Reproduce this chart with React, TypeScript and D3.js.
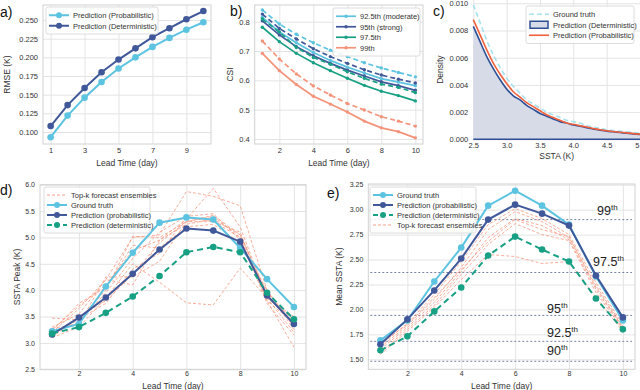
import React, { useEffect, useRef } from 'react';
import * as d3 from 'd3';

// lead time categories
const days = [1, 2, 3, 4, 5, 6, 7, 8, 9, 10];

// a) RMSE
const rmseProb = [0.093, 0.122, 0.146, 0.167, 0.185, 0.200, 0.214, 0.226, 0.237, 0.247];
const rmseDet = [0.108, 0.136, 0.159, 0.180, 0.197, 0.212, 0.227, 0.239, 0.251, 0.262];
const rmseYTicks = [0.100, 0.125, 0.150, 0.175, 0.200, 0.225, 0.250];

// b) CSI per threshold, solid = probabilistic, dashed = deterministic
const csiNames = ['92.5th (moderate)', '95th (strong)', '97.5th', '99th'];
const csiSolid = [
  [0.815, 0.765, 0.728, 0.695, 0.668, 0.645, 0.625, 0.606, 0.594, 0.582],
  [0.803, 0.755, 0.715, 0.684, 0.658, 0.635, 0.615, 0.595, 0.582, 0.566],
  [0.781, 0.732, 0.692, 0.660, 0.633, 0.607, 0.583, 0.563, 0.548, 0.530],
  [0.692, 0.633, 0.586, 0.546, 0.519, 0.492, 0.461, 0.438, 0.425, 0.404],
];
const csiDashed = [
  [0.840, 0.792, 0.757, 0.728, 0.703, 0.681, 0.660, 0.642, 0.627, 0.612],
  [0.826, 0.777, 0.741, 0.708, 0.681, 0.658, 0.636, 0.618, 0.604, 0.591],
  [0.809, 0.765, 0.712, 0.678, 0.655, 0.629, 0.607, 0.587, 0.576, 0.558],
  [0.734, 0.673, 0.622, 0.581, 0.550, 0.521, 0.499, 0.476, 0.461, 0.444],
];
const csiYTicks = [0.4, 0.5, 0.6, 0.7, 0.8];

// c) density of SSTA
const sstaBins = [2.5, 2.6, 2.7, 2.8, 2.9, 3.0, 3.1, 3.2, 3.3, 3.4, 3.5, 3.6, 3.7, 3.8, 3.9, 4.0, 4.1, 4.2, 4.3, 4.4, 4.5, 4.6, 4.7, 4.8, 4.9, 5.0];
const densTruth = [0.0099, 0.0086, 0.0073, 0.0062, 0.0053, 0.0045, 0.0039, 0.0034, 0.0029, 0.0026, 0.0023, 0.0020, 0.0018, 0.0016, 0.0014, 0.0013, 0.0012, 0.0010, 0.0009, 0.0008, 0.0007, 0.00065, 0.0006, 0.00055, 0.0005, 0.00045];
const densDet = [0.0083, 0.0072, 0.0061, 0.0052, 0.0044, 0.0037, 0.0032, 0.0029, 0.0025, 0.0022, 0.0019, 0.0017, 0.0015, 0.0013, 0.0012, 0.00105, 0.00097, 0.00085, 0.00075, 0.00066, 0.0006, 0.00055, 0.0005, 0.00045, 0.0004, 0.00036];
const densProb = [0.0088, 0.0077, 0.0066, 0.0056, 0.0048, 0.0041, 0.0035, 0.0031, 0.0027, 0.0024, 0.0021, 0.0018, 0.0016, 0.0014, 0.0012, 0.0011, 0.001, 0.0009, 0.0008, 0.0007, 0.00063, 0.00057, 0.00052, 0.00047, 0.00042, 0.00038];
const densXTicks = [2.5, 3.0, 3.5, 4.0, 4.5, 5.0];
const densYTicks = [0, 0.002, 0.004, 0.006, 0.008, 0.010];

// d) SSTA peak
const peakTruth = [3.22, 3.36, 4.07, 4.71, 5.28, 5.38, 5.34, 4.80, 4.21, 3.68];
const peakProb = [3.16, 3.48, 3.86, 4.31, 4.77, 5.17, 5.13, 4.92, 3.90, 3.36];
const peakDet = [3.18, 3.30, 3.57, 3.88, 4.27, 4.72, 4.82, 4.72, 3.95, 3.45];
const peakEns = [
  [3.47, 3.44, 4.00, 5.02, 5.00, 5.30, 5.42, 5.05, 3.90, 3.35],
  [3.20, 3.65, 4.20, 5.00, 5.05, 5.87, 5.78, 5.60, 4.00, 3.30],
  [3.10, 3.30, 3.85, 4.50, 4.15, 3.76, 3.72, 4.42, 3.85, 3.45],
  [3.25, 3.70, 4.10, 4.75, 4.95, 5.35, 5.93, 5.20, 3.85, 3.20],
  [3.15, 3.50, 3.80, 4.30, 4.90, 5.30, 5.30, 5.00, 3.80, 2.92],
  [3.30, 3.55, 4.20, 4.10, 4.95, 5.25, 5.35, 5.05, 3.95, 3.40],
  [3.18, 3.40, 3.95, 4.60, 5.10, 5.40, 5.45, 4.95, 3.85, 3.50],
  [3.22, 3.75, 4.05, 4.85, 4.80, 5.20, 5.25, 4.90, 4.00, 3.25],
  [3.12, 3.45, 3.75, 4.40, 4.70, 5.38, 5.30, 5.10, 3.80, 3.38],
  [3.28, 3.35, 4.25, 4.25, 4.55, 5.30, 5.40, 5.00, 3.75, 3.15],
];
const peakYTicks = [2.5, 3.0, 3.5, 4.0, 4.5, 5.0, 5.5, 6.0];

// e) mean SSTA
const meanTruth = [1.69, 1.89, 2.28, 2.62, 3.04, 3.19, 3.04, 2.85, 2.33, 1.89];
const meanProb = [1.65, 1.90, 2.19, 2.51, 2.90, 3.05, 2.96, 2.84, 2.34, 1.92];
const meanDet = [1.59, 1.73, 1.98, 2.22, 2.54, 2.73, 2.60, 2.48, 2.11, 1.80];
const meanEns = [
  [1.64, 1.86, 2.15, 2.48, 2.85, 3.01, 2.91, 2.75, 2.27, 1.85],
  [1.62, 1.84, 2.10, 2.42, 2.80, 2.98, 2.88, 2.72, 2.24, 1.83],
  [1.60, 1.82, 2.07, 2.38, 2.72, 2.91, 2.84, 2.70, 2.20, 1.81],
  [1.57, 1.80, 2.04, 2.35, 2.65, 2.86, 2.75, 2.69, 2.17, 1.80],
  [1.55, 1.78, 2.02, 2.30, 2.55, 2.53, 2.46, 2.48, 2.12, 1.78],
  [1.66, 1.85, 2.12, 2.40, 2.68, 2.90, 2.80, 2.73, 2.22, 1.82],
];
const meanYTicks = [1.5, 1.75, 2.0, 2.25, 2.5, 2.75, 3.0, 3.25];
const pctNames = ['99', '97.5', '95', '92.5', '90'];
const pctValues = [2.90, 2.37, 1.94, 1.68, 1.48];

const FONT = 'Liberation Sans, Arial, sans-serif';
const LIGHT = '#5cc3e0';
const DARK = '#40589a';
const GREEN = '#18a084';
const SALMON = '#f5937a';
const GRID = '#e4e4e4';

function frame(svg, x, y, box, xTicks, yTicks, xFmt, yFmt, xLabel, yLabel, yLabelX, xPad, xLabelDy, fs) {
  const [x0, x1, y0, y1] = box;
  svg.append('rect').attr('x', x0).attr('y', y0).attr('width', x1 - x0).attr('height', y1 - y0)
    .attr('fill', 'white');
  const gx = svg.append('g').attr('transform', `translate(0,${y1})`)
    .call(d3.axisBottom(x).tickValues(xTicks).tickSize(-(y1 - y0)).tickPadding(xPad).tickFormat(xFmt));
  const gy = svg.append('g').attr('transform', `translate(${x0},0)`)
    .call(d3.axisLeft(y).tickValues(yTicks).tickSize(-(x1 - x0)).tickPadding(5).tickFormat(yFmt));
  [gx, gy].forEach(g => {
    g.select('.domain').remove();
    g.attr('font-family', FONT).attr('font-size', fs);
    g.selectAll('line').attr('stroke', GRID).attr('stroke-width', 1);
    g.selectAll('text').attr('fill', '#333');
  });
  svg.append('text').attr('x', (x0 + Math.min(x1, 640)) / 2).attr('y', y1 + xLabelDy)
    .attr('text-anchor', 'middle').attr('font-family', FONT).attr('font-size', 8.5).attr('fill', '#333')
    .text(xLabel);
  svg.append('text').attr('transform', `translate(${yLabelX},${(y0 + y1) / 2}) rotate(-90)`)
    .attr('text-anchor', 'middle').attr('font-family', FONT).attr('font-size', 8.5).attr('fill', '#333')
    .text(yLabel);
}

function border(svg, box) {
  const [x0, x1, y0, y1] = box;
  svg.append('rect').attr('x', x0).attr('y', y0).attr('width', x1 - x0).attr('height', y1 - y0)
    .attr('fill', 'none').attr('stroke', '#d2d2d2').attr('stroke-width', 1);
}

function series(svg, x, y, vals, o) {
  const line = d3.line().x((d, i) => x(days[i])).y(d => y(d));
  svg.append('path').datum(vals).attr('fill', 'none').attr('stroke', o.color)
    .attr('stroke-width', o.width).attr('stroke-dasharray', o.dash || null)
    .attr('opacity', o.opacity || 1).attr('d', line);
  if (o.r) {
    svg.append('g').selectAll('circle').data(vals).enter().append('circle')
      .attr('cx', (d, i) => x(days[i])).attr('cy', d => y(d)).attr('r', o.r).attr('fill', o.color);
  }
}

function legend(svg, bx, by, w, rowH, items, fs) {
  svg.append('rect').attr('x', bx).attr('y', by).attr('width', w).attr('height', rowH * items.length + 6)
    .attr('rx', 2).attr('fill', 'white').attr('fill-opacity', 0.85).attr('stroke', '#dcdcdc');
  items.forEach((it, i) => {
    const cy = by + 3 + rowH * (i + 0.5);
    const lx0 = bx + 3, lx1 = bx + 23;
    if (it.patch) {
      svg.append('rect').attr('x', lx0 + 1).attr('y', cy - 3.5).attr('width', 18).attr('height', 7)
        .attr('fill', it.patch).attr('stroke', it.color).attr('stroke-width', 1.5);
    } else {
      svg.append('line').attr('x1', lx0).attr('x2', lx1).attr('y1', cy).attr('y2', cy)
        .attr('stroke', it.color).attr('stroke-width', it.width).attr('stroke-dasharray', it.dash || null)
        .attr('opacity', it.opacity || 1);
      if (it.r) {
        svg.append('circle').attr('cx', (lx0 + lx1) / 2).attr('cy', cy).attr('r', it.r).attr('fill', it.color);
      }
    }
    svg.append('text').attr('x', lx1 + 4).attr('y', cy + 3).attr('font-family', FONT)
      .attr('font-size', fs).attr('fill', '#333').text(it.label);
  });
}

function panelLetter(svg, x, y, t) {
  svg.append('text').attr('x', x).attr('y', y).attr('font-family', FONT).attr('font-size', 14)
    .attr('fill', '#111').text(t);
}

const App = () => {
  const ref = useRef(null);

  useEffect(() => {
    const svg = d3.select(ref.current);
    svg.selectAll('*').remove();
    const dayDomain = [0.55, 10.45];

    // ---- a) RMSE
    const boxA = [43, 211, 5, 144];
    const xa = d3.scaleLinear().domain(dayDomain).range([boxA[0], boxA[1]]);
    const ya = d3.scaleLinear().domain([0.1, 0.25]).range([132, 20]);
    frame(svg, xa, ya, boxA, [1, 3, 5, 7, 9], rmseYTicks, d3.format('d'), d3.format('.3f'),
      'Lead Time (day)', 'RMSE (K)', 10, 4, 21.5, 7.5);
    series(svg, xa, ya, rmseProb, { color: LIGHT, width: 2, r: 3.3 });
    series(svg, xa, ya, rmseDet, { color: DARK, width: 2, r: 3.3 });
    border(svg, boxA);
    legend(svg, 46, 7, 112, 10.5, [
      { label: 'Prediction (Probabilistic)', color: LIGHT, width: 2, r: 3 },
      { label: 'Prediction (Deterministic)', color: DARK, width: 2, r: 3 },
    ], 7.5);
    panelLetter(svg, 0, 17, 'a)');

    // ---- b) CSI
    const boxB = [254.7, 423, 5, 144];
    const xb = d3.scaleLinear().domain(dayDomain).range([boxB[0], boxB[1]]);
    const yb = d3.scaleLinear().domain([0.4, 0.8]).range([139, 21.7]);
    frame(svg, xb, yb, boxB, [2, 4, 6, 8, 10], csiYTicks, d3.format('d'), d3.format('.1f'),
      'Lead Time (day)', 'CSI', 233, 4, 21.5, 7.5);
    const csiColors = [LIGHT, DARK, GREEN, SALMON];
    [0, 1, 2, 3].forEach(k => {
      series(svg, xb, yb, csiDashed[k], { color: csiColors[k], width: 1.7, dash: '5,3', r: 1.7 });
      series(svg, xb, yb, csiSolid[k], { color: csiColors[k], width: 1.7, r: 1.7 });
    });
    border(svg, boxB);
    legend(svg, 333, 8, 87, 10.5, csiNames.map((n, k) => ({ label: n, color: csiColors[k], width: 1.7, r: 1.7 })), 7.5);
    panelLetter(svg, 230, 16, 'b)');

    // ---- c) density
    const boxC = [473.3, 700, 0, 139.3];
    const xc = d3.scaleLinear().domain([2.5, 5.0]).range([473.3, 640]);
    const yc = d3.scaleLinear().domain([0, 0.01]).range([139.3, 3.3]);
    frame(svg, xc, yc, boxC, densXTicks, densYTicks, d3.format('.1f'), d3.format('.3f'),
      'SSTA (K)', 'Density', 443, 3, 20, 7.5);
    const area = d3.area().x((d, i) => xc(sstaBins[i])).y0(yc(0)).y1(d => yc(d)).curve(d3.curveMonotoneX);
    const dl = d3.line().x((d, i) => xc(sstaBins[i])).y(d => yc(d)).curve(d3.curveMonotoneX);
    svg.append('path').datum(densDet).attr('fill', '#d6dbe7').attr('d', area);
    svg.append('path').datum(densTruth).attr('fill', 'none').attr('stroke', '#a8e1ee').attr('stroke-width', 1.6)
      .attr('stroke-dasharray', '5,3').attr('d', dl);
    svg.append('path').datum(densDet).attr('fill', 'none').attr('stroke', '#2f4f95').attr('stroke-width', 1.6).attr('d', dl);
    svg.append('path').datum(densProb).attr('fill', 'none').attr('stroke', '#f0603c').attr('stroke-width', 1.6).attr('d', dl);
    svg.append('line').attr('x1', xc(2.5)).attr('x2', 640).attr('y1', yc(0)).attr('y2', yc(0))
      .attr('stroke', '#2f4f95').attr('stroke-width', 1.6);
    legend(svg, 526, 6, 108, 10.5, [
      { label: 'Ground truth', color: '#a8e1ee', width: 1.6, dash: '5,3' },
      { label: 'Prediction (Deterministic)', color: '#2f4f95', patch: '#d6dbe7' },
      { label: 'Prediction (Probabilistic)', color: '#f0603c', width: 1.6 },
    ], 7.5);
    panelLetter(svg, 433, 16, 'c)');

    // ---- d) SSTA peak
    const boxD = [40, 306, 184.7, 369.3];
    const xd = d3.scaleLinear().domain(dayDomain).range([boxD[0], boxD[1]]);
    const yd = d3.scaleLinear().domain([2.5, 6.0]).range([boxD[3], boxD[2]]);
    frame(svg, xd, yd, boxD, [2, 4, 6, 8, 10], peakYTicks, d3.format('d'), d3.format('.1f'),
      'Lead Time (day)', 'SSTA Peak (K)', 20, 2, 19.5, 7);
    peakEns.forEach(e => series(svg, xd, yd, e, { color: SALMON, width: 0.9, dash: '3,2', opacity: 0.85 }));
    series(svg, xd, yd, peakTruth, { color: LIGHT, width: 2, r: 3.3 });
    series(svg, xd, yd, peakProb, { color: DARK, width: 2, r: 3.3 });
    series(svg, xd, yd, peakDet, { color: GREEN, width: 2, dash: '6,4', r: 3.3 });
    border(svg, boxD);
    legend(svg, 44, 187, 106, 10, [
      { label: 'Top-k forecast ensembles', color: SALMON, width: 0.9, dash: '3,2' },
      { label: 'Ground truth', color: LIGHT, width: 2, r: 3 },
      { label: 'Prediction (probabilistic)', color: DARK, width: 2, r: 3 },
      { label: 'Prediction (deterministic)', color: GREEN, width: 2, dash: '5,3', r: 3 },
    ], 7.5);
    panelLetter(svg, 0, 195, 'd)');

    // ---- e) mean SSTA
    const boxE = [368.3, 635, 184, 369.3];
    const xe = d3.scaleLinear().domain(dayDomain).range([boxE[0], boxE[1]]);
    const ye = d3.scaleLinear().domain([1.5, 3.25]).range([359.3, 184.7]);
    frame(svg, xe, ye, boxE, [2, 4, 6, 8, 10], meanYTicks, d3.format('d'), d3.format('.2f'),
      'Lead Time (day)', 'Mean SSTA (K)', 342, 2, 19.5, 7);
    pctValues.forEach(v => {
      svg.append('line').attr('x1', boxE[0] + 2).attr('x2', boxE[1] - 3).attr('y1', ye(v)).attr('y2', ye(v))
        .attr('stroke', '#7482a6').attr('stroke-width', 1).attr('stroke-dasharray', '2,2');
    });
    const pctPos = [[597, 215], [593, 265.5], [547, 312.5], [547, 337], [547, 355]];
    pctNames.forEach((n, i) => {
      const t = svg.append('text').attr('x', pctPos[i][0]).attr('y', pctPos[i][1])
        .attr('font-family', FONT).attr('font-size', 12.5).attr('fill', '#222');
      t.append('tspan').text(n);
      t.append('tspan').attr('font-size', 8).attr('dy', -5).text('th');
    });
    meanEns.forEach(e => series(svg, xe, ye, e, { color: SALMON, width: 0.9, dash: '3,2', opacity: 0.85 }));
    series(svg, xe, ye, meanTruth, { color: LIGHT, width: 2, r: 3.3 });
    series(svg, xe, ye, meanProb, { color: DARK, width: 2, r: 3.3 });
    series(svg, xe, ye, meanDet, { color: GREEN, width: 2, dash: '6,4', r: 3.3 });
    border(svg, boxE);
    legend(svg, 370, 187, 106, 10, [
      { label: 'Ground truth', color: LIGHT, width: 2, r: 3 },
      { label: 'Prediction (probabilistic)', color: DARK, width: 2, r: 3 },
      { label: 'Prediction (deterministic)', color: GREEN, width: 2, dash: '5,3', r: 3 },
      { label: 'Top-k forecast ensembles', color: SALMON, width: 0.9, dash: '3,2' },
    ], 7.5);
    panelLetter(svg, 327, 198, 'e)');
  }, []);

  return (
    <svg ref={ref} width={640} height={390}
      style={{ position: 'absolute', left: 0, top: 0, background: 'white' }} />
  );
};

export default App;
